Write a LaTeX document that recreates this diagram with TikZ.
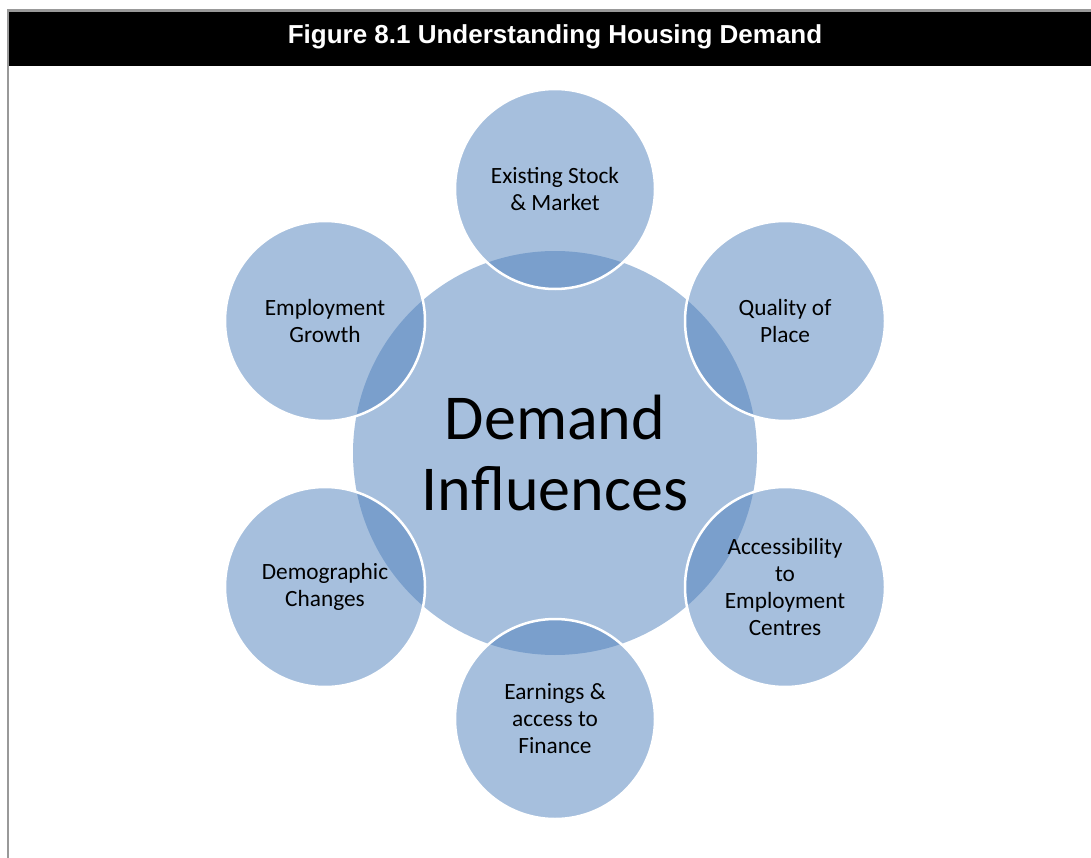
\documentclass[tikz,border=0pt]{standalone}
\usepackage{fontspec}
\setmainfont{Carlito}
\newfontfamily\titlefont{Liberation Sans}
\definecolor{circblue}{RGB}{79,129,189}
\definecolor{bordergray}{RGB}{153,153,153}
\tikzset{
  small/.style={circle, minimum size=200pt, inner sep=0pt, fill=circblue, fill opacity=0.5, draw=white, line width=2.5pt, text opacity=1, align=center, font=\fontsize{23.3}{27}\selectfont},
  big/.style={circle, minimum size=404pt, inner sep=0pt, fill=circblue, fill opacity=0.5, text opacity=1, align=center, font=\fontsize{64}{71}\selectfont},
}
\begin{document}
\begin{tikzpicture}[x=1pt,y=-1pt]
\useasboundingbox (0,0) rectangle (1091,858);
\fill[white] (0,0) rectangle (1091,858);
\fill[black] (8,11) rectangle (1091,66);
\draw[bordergray, line width=2.5pt] (8,858) -- (8,10.5) -- (1091,10.5);
\node[text=white, font=\titlefont\bfseries\fontsize{26}{30}\selectfont] (title) at (555,37) {Figure 8.1 Understanding Housing Demand};
\node[big] (center) at (555,453) {Demand\\Influences};
\node[small] (top) at (555,189) {Existing Stock\\\& Market};
\node[small] (ur) at (785,321) {Quality of\\Place};
\node[small] (lr) at (785,587) {Accessibility\\to\\Employment\\Centres};
\node[small] (bot) at (555,719) {Earnings \&\\access to\\Finance};
\node[small] (ll) at (325,587) {Demographic\\Changes};
\node[small] (ul) at (325,321) {Employment\\Growth};
\end{tikzpicture}
\end{document}
